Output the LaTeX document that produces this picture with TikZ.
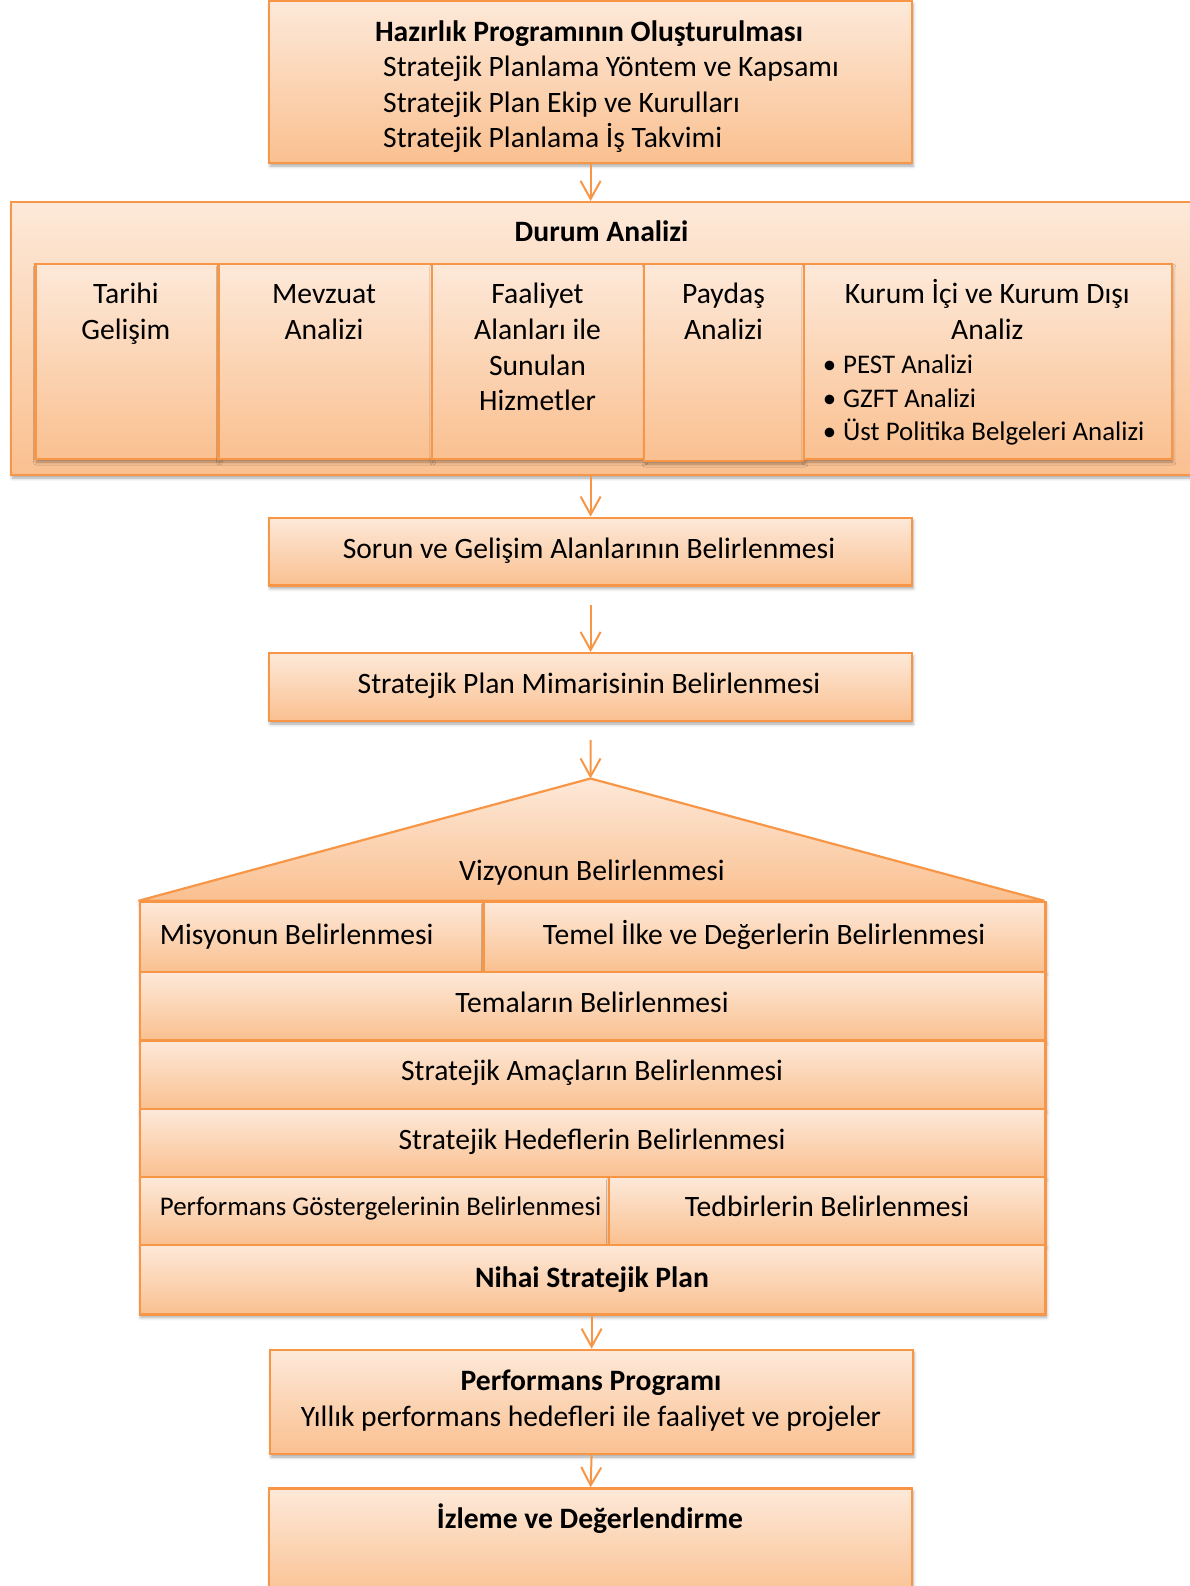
\documentclass[tikz,border=0pt]{standalone}
\usepackage{fontspec}
\setmainfont{Carlito}
\usetikzlibrary{arrows.meta,shadows.blur}
\definecolor{obord}{HTML}{F79646}
\definecolor{otop}{HTML}{FDE9D9}
\definecolor{obot}{HTML}{FAC090}
\newcommand\fN{\fontsize{29.6}{35.8}\selectfont}
\newcommand\fS{\fontsize{26.9}{33}\selectfont}
\tikzset{
 oshadow/.style={blur shadow={shadow xshift=1pt, shadow yshift=-3pt, shadow blur radius=3pt, shadow opacity=35}},
 cell/.style={draw=obord, line width=2.2pt, top color=otop, bottom color=obot, rectangle, inner sep=0pt, anchor=north west},
 obox/.style={cell, oshadow},
 lbl/.style={font=\fN, inner sep=0pt, anchor=base},
 lbll/.style={lbl, anchor=base west},
 conn/.style={draw=obord, line width=2pt, -{Straight Barb[length=18pt,width=20pt]}},
}
\begin{document}
\begin{tikzpicture}[x=1pt,y=-1pt]
\useasboundingbox (0,0) rectangle (1189,1586);
% top box
\node[obox, minimum width=643pt, minimum height=162pt] (hp) at (268,0) {};
\node[lbl, font=\fN\bfseries] (t1) at (589,41.5) {Hazırlık Programının Oluşturulması};
\node[lbll] (t2) at (383,77) {Stratejik Planlama Yöntem ve Kapsamı};
\node[lbll] (t3) at (383,112.5) {Stratejik Plan Ekip ve Kurulları};
\node[lbll] (t4) at (383,148) {Stratejik Planlama İş Takvimi};
% durum analizi
\node[obox, minimum width=1190pt, minimum height=273pt] (da) at (10,201) {};
\node[lbl, font=\fN\bfseries] (dat) at (601.6,241.5) {Durum Analizi};
\node[obox, minimum width=183pt, minimum height=195pt] (c1) at (34.4,263) {};
\node[obox, minimum width=213.3pt, minimum height=195pt] (c2) at (217.4,263) {};
\node[obox, minimum width=212.3pt, minimum height=195pt] (c3) at (430.7,263) {};
\node[obox, minimum width=159.8pt, minimum height=197pt] (c4) at (643,263) {};
\node[obox, minimum width=368pt, minimum height=195pt] (c5) at (802.8,263) {};
\node[lbl] (c1a) at (125.9,303.2) {Tarihi};
\node[lbl] (c1b) at (125.9,339.6) {Gelişim};
\node[lbl] (c2a) at (324,303.2) {Mevzuat};
\node[lbl] (c2b) at (324,339.6) {Analizi};
\node[lbl] (c3a) at (537.5,303.2) {Faaliyet};
\node[lbl] (c3b) at (537.5,339.6) {Alanları ile};
\node[lbl] (c3c) at (537.5,375) {Sunulan};
\node[lbl] (c3d) at (537.5,410.4) {Hizmetler};
\node[lbl] (c4a) at (723.5,303.2) {Paydaş};
\node[lbl] (c4b) at (723.5,339.6) {Analizi};
\node[lbl] (c5a) at (987.3,303.2) {Kurum İçi ve Kurum Dışı};
\node[lbl] (c5b) at (987.3,339.6) {Analiz};
\node[lbll, font=\fS] (b1) at (822.7,373.2) {\makebox[20.3pt][l]{•}PEST Analizi};
\node[lbll, font=\fS] (b2) at (822.7,407.6) {\makebox[20.3pt][l]{•}GZFT Analizi};
\node[lbll, font=\fS] (b3) at (822.7,440.9) {\makebox[20.3pt][l]{•}Üst Politika Belgeleri Analizi};
% sorun, mimari
\node[obox, minimum width=643pt, minimum height=67.8pt] (so) at (268,516.6) {};
\node[lbl] (sot) at (589,558) {Sorun ve Gelişim Alanlarının Belirlenmesi};
\node[obox, minimum width=643pt, minimum height=68pt] (mim) at (268,652) {};
\node[lbl] (mimt) at (589,693.5) {Stratejik Plan Mimarisinin Belirlenmesi};
% pentagon
\coordinate (apex) at (590.5,778.5);
\coordinate (pr) at (1044.4,900.8);
\coordinate (pl) at (138.5,900.8);
\path[draw=obord, line width=2.2pt, miter limit=2, top color=otop, bottom color=obot, oshadow] (apex) -- (pr) -- (pl) -- cycle;
\node[lbl] (viz) at (592,880.5) {Vizyonun Belirlenmesi};
\node[obox, minimum width=343.8pt, minimum height=69.8pt] (r1a) at (138.5,900.8) {};
\node[obox, minimum width=562.1pt, minimum height=69.8pt] (r1b) at (482.3,900.8) {};
\node[obox, minimum width=905.9pt, minimum height=68.8pt] (r2) at (138.5,970.6) {};
\node[obox, minimum width=905.9pt, minimum height=68.7pt] (r3) at (138.5,1039.4) {};
\node[obox, minimum width=905.9pt, minimum height=67.8pt] (r4) at (138.5,1108.1) {};
\node[obox, minimum width=469.1pt, minimum height=67.7pt] (r5a) at (138.5,1175.9) {};
\node[obox, minimum width=436.8pt, minimum height=67.7pt] (r5b) at (607.6,1175.9) {};
\node[obox, minimum width=905.9pt, minimum height=69.8pt] (r6) at (138.5,1243.6) {};
\node[lbll] (r1at) at (159.7,944.2) {Misyonun Belirlenmesi};
\node[lbl] (r1bt) at (764,944.2) {Temel İlke ve Değerlerin Belirlenmesi};
\node[lbl] (r2t) at (592,1012) {Temaların Belirlenmesi};
\node[lbl] (r3t) at (592,1080.7) {Stratejik Amaçların Belirlenmesi};
\node[lbl] (r4t) at (592,1149.5) {Stratejik Hedeflerin Belirlenmesi};
\node[lbll, font=\fS] (r5at) at (159.7,1215.5) {Performans Göstergelerinin Belirlenmesi};
\node[lbl] (r5bt) at (827,1216.2) {Tedbirlerin Belirlenmesi};
\node[lbl, font=\fN\bfseries] (r6t) at (592,1287) {Nihai Stratejik Plan};
% performans programi, izleme
\node[obox, minimum width=643pt, minimum height=104.2pt] (pp) at (269,1348.7) {};
\node[lbl, font=\fN\bfseries] (ppa) at (591,1390) {Performans Programı};
\node[lbl] (ppb) at (591,1426.5) {Yıllık performans hedefleri ile faaliyet ve projeler};
\node[obox, minimum width=643pt, minimum height=112.7pt] (iz) at (268,1487.3) {};
\node[lbl, font=\fN\bfseries] (izt) at (590,1528.5) {İzleme ve Değerlendirme};
% connectors
\draw[conn] (hp.south) -- (hp.south |- da.north);
\draw[conn] (hp.south |- da.south) -- (so.north);
\draw[conn, shorten <=18pt] (so.south) -- (mim.north);
\draw[conn, shorten <=18pt] (mim.south) -- (apex);
\draw[conn] (pp.north |- r6.south) -- (pp.north);
\draw[conn] (pp.south) -- (iz.north);
\end{tikzpicture}
\end{document}
